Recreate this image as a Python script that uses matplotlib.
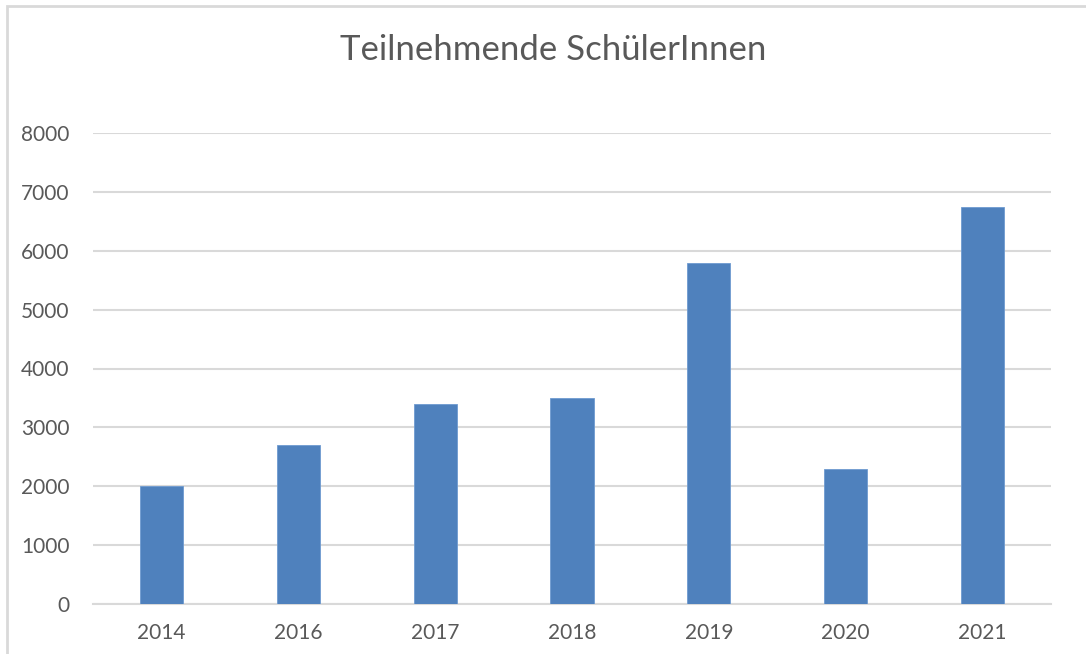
import matplotlib.pyplot as plt
from matplotlib.patches import Rectangle

# Daten
jahre = ['2014', '2016', '2017', '2018', '2019', '2020', '2021']
teilnehmer = [2000, 2700, 3400, 3500, 5800, 2300, 6750]

plt.rcParams['font.family'] = ['Lato', 'DejaVu Sans']
grau = '#595959'

fig = plt.figure(figsize=(10.86, 6.54), dpi=100)
ax = fig.add_axes([93 / 1086, 1 - 604 / 654, (1051 - 93) / 1086, (604 - 133) / 654])

x = range(len(jahre))
ax.bar(x, teilnehmer, width=0.315, color='#4f81bd', edgecolor='#6f9bd0', linewidth=0.6, zorder=3)

ax.set_xlim(-0.5, len(jahre) - 0.5)
ax.set_ylim(0, 8000)
ax.set_yticks(range(0, 8001, 1000))
ax.set_xticks(list(x))
ax.set_xticklabels(jahre)
ax.tick_params(axis='both', length=0, colors=grau, labelsize=15)
ax.tick_params(axis='x', pad=14)
ax.tick_params(axis='y', pad=17)

ax.grid(axis='y', color='#d9d9d9', linewidth=1.5, zorder=0)
for s in ['top', 'right', 'left']:
    ax.spines[s].set_visible(False)
ax.spines['bottom'].set_color('#d9d9d9')
ax.spines['bottom'].set_linewidth(1.5)

fig.text(553 / 1086, 1 - 50 / 654, 'Teilnehmende SchülerInnen', ha='center', va='center',
         fontsize=25, color=grau)

# Rahmen
fig.patches.append(Rectangle((7 / 1086, -0.1), 1.2, 1 - 6 / 654 + 0.1, transform=fig.transFigure,
                             fill=False, edgecolor='#d9d9d9', linewidth=2))

fig.savefig('out.png', dpi=100)
